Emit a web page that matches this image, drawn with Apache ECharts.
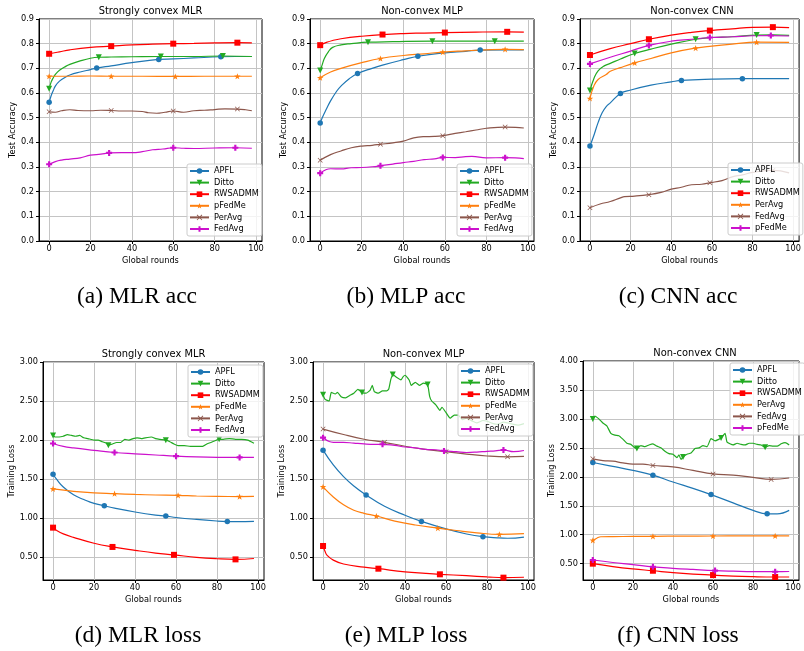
<!DOCTYPE html>
<html><head><meta charset="utf-8">
<script src="https://cdn.jsdelivr.net/npm/echarts@6/dist/echarts.min.js"></script>
<style>html,body{margin:0;padding:0;background:#fff}#c{width:804px;height:651px}</style>
</head><body><div id="c"></div>
<script>
// ---------- tick labels ----------
const xTicks = [0, 20, 40, 60, 80, 100];
const accTicks = [0.0, 0.1, 0.2, 0.3, 0.4, 0.5, 0.6, 0.7, 0.8, 0.9];
const lossTicks = [0.5, 1.0, 1.5, 2.0, 2.5, 3.0, 3.5, 4.0];

// ---------- series names ----------
const namesStd = ['APFL', 'Ditto', 'RWSADMM', 'pFedMe', 'PerAvg', 'FedAvg'];
const namesCnn = ['APFL', 'Ditto', 'RWSADMM', 'PerAvg', 'FedAvg', 'pFedMe'];

// ---------- (a) MLR acc ----------
const a_APFL = [[0,0.562],[1,0.59],[2,0.61],[3,0.628],[5,0.648],[8,0.665],[10,0.673],[15,0.685],[20,0.695],[23,0.701],[30,0.71],[40,0.723],[53,0.736],[60,0.738],[70,0.742],[83,0.747],[90,0.748],[98,0.748]];
const a_Ditto = [[0,0.617],[1,0.645],[2,0.662],[3,0.675],[5,0.692],[8,0.708],[10,0.716],[15,0.73],[20,0.741],[24,0.745],[30,0.746],[40,0.747],[54,0.748],[70,0.748],[84,0.75],[98,0.748]];
const a_RWSADMM = [[0,0.759],[5,0.767],[10,0.775],[20,0.785],[30,0.79],[40,0.795],[50,0.798],[60,0.80],[70,0.801],[80,0.803],[91,0.804],[98,0.803]];
const a_pFedMe = [[0,0.668],[10,0.668],[20,0.669],[30,0.668],[45,0.668],[61,0.667],[75,0.668],[91,0.668],[98,0.668]];
const a_PerAvg = [[0,0.524],[3,0.522],[6,0.528],[10,0.532],[14,0.529],[20,0.528],[25,0.530],[30,0.529],[35,0.527],[40,0.527],[45,0.525],[48,0.52],[52,0.518],[56,0.522],[60,0.527],[65,0.522],[70,0.528],[75,0.530],[80,0.533],[85,0.536],[91,0.535],[95,0.532],[98,0.528]];
const a_FedAvg = [[0,0.311],[3,0.322],[6,0.328],[10,0.332],[15,0.337],[20,0.348],[25,0.352],[29,0.357],[35,0.358],[40,0.358],[45,0.362],[50,0.37],[55,0.373],[60,0.378],[65,0.376],[70,0.375],[80,0.377],[90,0.378],[98,0.376]];
const a_marks = [[0,23,53,83],[0,24,54,84],[0,30,60,91],[0,30,61,91],[0,30,60,91],[0,29,60,90]];

// ---------- (b) MLP acc ----------
const b_APFL = [[0,0.478],[1,0.5],[3,0.535],[5,0.568],[8,0.608],[10,0.628],[14,0.658],[18,0.679],[25,0.700],[30,0.713],[40,0.735],[47,0.749],[60,0.763],[70,0.769],[77,0.774],[90,0.775],[98,0.775]];
const b_Ditto = [[0,0.691],[1,0.715],[2,0.74],[4,0.768],[6,0.785],[10,0.795],[15,0.800],[23,0.806],[35,0.808],[54,0.81],[70,0.81],[84,0.81],[98,0.81]];
const b_RWSADMM = [[0,0.794],[3,0.805],[6,0.813],[10,0.82],[20,0.83],[30,0.837],[40,0.841],[50,0.843],[60,0.845],[75,0.847],[90,0.848],[98,0.847]];
const b_pFedMe = [[0,0.662],[5,0.685],[10,0.70],[20,0.723],[29,0.74],[40,0.752],[50,0.759],[59,0.766],[70,0.771],[80,0.775],[89,0.777],[98,0.776]];
const b_PerAvg = [[0,0.327],[5,0.35],[10,0.365],[15,0.378],[20,0.385],[25,0.388],[29,0.392],[35,0.398],[40,0.405],[45,0.418],[50,0.423],[55,0.424],[59,0.427],[65,0.436],[70,0.443],[75,0.45],[80,0.457],[89,0.462],[94,0.461],[98,0.458]];
const b_FedAvg = [[0,0.275],[3,0.29],[5,0.293],[10,0.292],[15,0.297],[20,0.298],[25,0.301],[29,0.305],[35,0.312],[40,0.318],[45,0.323],[50,0.33],[55,0.333],[59,0.339],[65,0.338],[70,0.342],[73,0.343],[80,0.337],[89,0.338],[94,0.337],[98,0.334]];
const b_marks = [[0,18,47,77],[0,23,54,84],[0,30,60,90],[0,29,59,89],[0,29,59,89],[0,29,59,89]];

// ---------- (c) CNN acc ----------
const c_APFL = [[0,0.385],[2,0.43],[4,0.48],[6,0.52],[8,0.545],[10,0.56],[15,0.598],[20,0.612],[30,0.632],[40,0.645],[45,0.651],[60,0.656],[75,0.658],[98,0.658]];
const c_Ditto = [[0,0.61],[2,0.66],[4,0.69],[7,0.71],[10,0.72],[15,0.738],[22,0.76],[30,0.778],[40,0.798],[52,0.818],[60,0.825],[70,0.828],[82,0.835],[90,0.836],[98,0.834]];
const c_RWSADMM = [[0,0.754],[10,0.78],[20,0.80],[29,0.818],[40,0.835],[50,0.846],[59,0.853],[70,0.860],[80,0.866],[90,0.867],[98,0.865]];
const c_PerAvg = [[0,0.578],[2,0.63],[4,0.655],[8,0.675],[10,0.688],[15,0.703],[22,0.722],[30,0.74],[40,0.763],[52,0.782],[60,0.79],[70,0.798],[82,0.806],[98,0.805]];
const c_FedAvg = [[0,0.135],[5,0.15],[10,0.16],[15,0.175],[17,0.18],[22,0.182],[29,0.188],[35,0.197],[40,0.21],[45,0.218],[50,0.228],[55,0.23],[59,0.236],[65,0.245],[70,0.26],[75,0.268],[80,0.278],[90,0.286],[98,0.276]];
const c_pFedMe = [[0,0.718],[10,0.745],[20,0.77],[29,0.793],[40,0.81],[50,0.818],[59,0.825],[70,0.828],[80,0.832],[89,0.833],[98,0.831]];
const c_marks = [[0,15,45,75],[0,22,52,82],[0,29,59,90],[0,22,52,82],[0,29,59,90],[0,29,59,89]];

// ---------- (d) MLR loss ----------
const d_APFL = [[0,1.564],[2,1.49],[5,1.40],[10,1.30],[15,1.24],[20,1.19],[25,1.16],[30,1.13],[40,1.08],[50,1.04],[55,1.028],[60,1.01],[70,0.985],[80,0.965],[85,0.958],[90,0.956],[98,0.96]];
const d_Ditto = [[0,2.06],[1,2.04],[3,2.04],[5,2.05],[7,2.07],[9,2.06],[11,2.05],[13,2.06],[15,2.03],[17,2.02],[20,2.00],[22,2.00],[24,1.98],[26,1.96],[27,1.935],[29,1.95],[31,1.97],[33,1.97],[35,2.01],[37,2.00],[39,2.02],[41,2.03],[43,2.02],[45,2.03],[48,2.04],[50,2.02],[52,2.01],[55,2.00],[57,1.98],[59,1.95],[61,1.93],[64,1.93],[67,1.92],[70,1.92],[73,1.92],[75,1.95],[77,1.97],[81,2.01],[83,2.01],[86,2.02],[89,2.01],[92,2.01],[95,2.00],[98,1.96]];
const d_RWSADMM = [[0,0.88],[2,0.84],[5,0.80],[10,0.755],[20,0.68],[29,0.633],[40,0.59],[50,0.555],[59,0.532],[70,0.50],[80,0.482],[89,0.474],[98,0.485]];
const d_pFedMe = [[0,1.376],[10,1.345],[20,1.325],[30,1.315],[40,1.305],[50,1.298],[61,1.293],[70,1.285],[80,1.28],[91,1.278],[98,1.28]];
const d_PerAvg = [];
const d_FedAvg = [[0,1.957],[5,1.92],[10,1.90],[20,1.87],[30,1.842],[40,1.825],[50,1.81],[60,1.795],[70,1.785],[80,1.78],[91,1.779],[98,1.78]];
const d_marks = [[0,25,55,85],[0,27,55,81],[0,29,59,89],[0,30,61,91],[],[0,30,60,91]];

// ---------- (e) MLP loss ----------
const e_APFL = [[0,1.87],[5,1.68],[10,1.53],[15,1.41],[21,1.295],[30,1.15],[40,1.035],[48,0.956],[60,0.86],[70,0.795],[78,0.76],[85,0.745],[90,0.74],[98,0.755]];
const e_Ditto = [[0,2.58],[1,2.52],[3,2.50],[4,2.61],[6,2.59],[7,2.61],[9,2.55],[11,2.54],[13,2.57],[15,2.60],[17,2.65],[19,2.61],[21,2.60],[23,2.64],[24,2.70],[25,2.62],[27,2.60],[29,2.63],[31,2.63],[32,2.65],[33,2.77],[34,2.84],[36,2.80],[38,2.77],[39,2.81],[40,2.83],[42,2.77],[43,2.70],[45,2.74],[47,2.70],[49,2.73],[51,2.71],[52,2.56],[53,2.50],[55,2.45],[57,2.38],[58,2.42],[60,2.35],[62,2.28],[64,2.32],[66,2.32],[68,2.26],[70,2.28],[73,2.24],[75,2.22],[78,2.25],[80,2.24],[83,2.21],[85,2.20],[88,2.23],[90,2.22],[93,2.20],[95,2.19],[98,2.21]];
const e_RWSADMM = [[0,0.641],[1,0.57],[2,0.52],[5,0.46],[10,0.41],[20,0.37],[27,0.35],[40,0.31],[50,0.29],[57,0.278],[70,0.26],[80,0.245],[88,0.235],[98,0.24]];
const e_pFedMe = [[0,1.40],[5,1.27],[10,1.17],[15,1.10],[20,1.06],[26,1.025],[35,0.96],[45,0.91],[56,0.87],[65,0.84],[75,0.81],[86,0.79],[98,0.80]];
const e_PerAvg = [[0,2.14],[10,2.07],[20,2.01],[30,1.97],[40,1.92],[50,1.88],[60,1.85],[70,1.82],[80,1.795],[90,1.784],[98,1.79]];
const e_FedAvg = [[0,2.03],[3,1.98],[5,1.97],[10,1.97],[15,1.96],[20,1.95],[25,1.945],[29,1.945],[35,1.93],[40,1.91],[45,1.90],[50,1.88],[55,1.875],[59,1.86],[65,1.85],[70,1.84],[75,1.845],[80,1.855],[84,1.86],[88,1.872],[93,1.85],[98,1.865]];
const e_marks = [[0,21,48,78],[0,19,34,51],[0,27,57,88],[0,26,56,86],[0,30,60,90],[0,29,59,88]];

// ---------- (f) CNN loss ----------
const f_APFL = [[0,2.247],[10,2.18],[20,2.11],[30,2.028],[40,1.91],[50,1.80],[59,1.693],[70,1.55],[80,1.42],[87,1.36],[92,1.36],[98,1.42]];
const f_Ditto = [[0,3.0],[1,3.05],[3,3.0],[5,2.93],[7,2.88],[9,2.75],[11,2.72],[13,2.71],[15,2.65],[17,2.58],[19,2.56],[21,2.50],[22,2.49],[24,2.54],[26,2.52],[28,2.55],[30,2.57],[32,2.53],[34,2.50],[36,2.44],[38,2.40],[40,2.39],[42,2.33],[43,2.38],[44,2.30],[45,2.34],[47,2.39],[49,2.41],[51,2.49],[53,2.50],[55,2.54],[57,2.52],[59,2.66],[61,2.62],[63,2.65],[64,2.67],[66,2.75],[67,2.60],[70,2.55],[72,2.58],[74,2.56],[76,2.55],[78,2.58],[80,2.58],[82,2.56],[84,2.55],[86,2.51],[88,2.54],[90,2.53],[92,2.53],[94,2.57],[96,2.59],[98,2.55]];
const f_RWSADMM = [[0,0.50],[10,0.45],[20,0.41],[30,0.378],[40,0.345],[50,0.32],[60,0.303],[70,0.285],[80,0.275],[91,0.27],[98,0.27]];
const f_PerAvg = [[0,0.903],[2,0.94],[4,0.965],[10,0.968],[20,0.97],[30,0.972],[45,0.976],[60,0.978],[75,0.98],[91,0.98],[98,0.98]];
const f_FedAvg = [[0,2.31],[5,2.28],[10,2.27],[15,2.24],[20,2.22],[25,2.22],[30,2.195],[40,2.17],[50,2.11],[60,2.05],[70,2.03],[80,1.99],[89,1.955],[98,1.98]];
const f_pFedMe = [[0,0.563],[10,0.52],[20,0.485],[30,0.445],[40,0.42],[50,0.40],[61,0.38],[70,0.37],[80,0.362],[91,0.361],[98,0.365]];
const f_marks = [[0,30,59,87],[0,22,45,64,86],[0,30,60,91],[0,30,60,91],[0,30,60,89],[0,30,61,91]];

// ---------- styles (by position in each plot) ----------
const STAR = 'path://M0,-10L2.35,-3.24L9.51,-3.09L3.8,1.24L5.88,8.09L0,4L-5.88,8.09L-3.8,1.24L-9.51,-3.09L-2.35,-3.24Z';
const XMARK = 'path://M-5,-4L-4,-5L0,-1L4,-5L5,-4L1,0L5,4L4,5L0,1L-4,5L-5,4L-1,0Z';
const PLUS = 'path://M-1.8,-5L1.8,-5L1.8,-1.8L5,-1.8L5,1.8L1.8,1.8L1.8,5L-1.8,5L-1.8,1.8L-5,1.8L-5,-1.8L-1.8,-1.8Z';
const styles = [
  {color:'#1f77b4', symbol:'circle', size:5.5, rotate:0},
  {color:'#22aa22', symbol:'triangle', size:6, rotate:180},
  {color:'#ff0000', symbol:'rect', size:6, rotate:0},
  {color:'#ff7f0e', symbol:STAR, size:6.5, rotate:0},
  {color:'#8c564b', symbol:XMARK, size:5, rotate:0},
  {color:'#cc11cc', symbol:PLUS, size:6, rotate:0}
];

const plots = [
  {key:'a', title:'Strongly convex MLR', yName:'Test Accuracy', names:namesStd, series:[a_APFL,a_Ditto,a_RWSADMM,a_pFedMe,a_PerAvg,a_FedAvg], marks:a_marks,
   grid:{left:39, top:19, width:223, height:222}, y:{min:0, max:0.9, acc:true}, legend:{left:187, top:164}, yGap:22, caption:'(a) MLR acc', cap:[137,297]},
  {key:'b', title:'Non-convex MLP', yName:'Test Accuracy', names:namesStd, series:[b_APFL,b_Ditto,b_RWSADMM,b_pFedMe,b_PerAvg,b_FedAvg], marks:b_marks,
   grid:{left:310, top:19, width:224, height:222}, y:{min:0, max:0.9, acc:true}, legend:{left:457, top:164}, yGap:22, caption:'(b) MLP acc', cap:[406,297]},
  {key:'c', title:'Non-convex CNN', yName:'Test Accuracy', names:namesCnn, series:[c_APFL,c_Ditto,c_RWSADMM,c_PerAvg,c_FedAvg,c_pFedMe], marks:c_marks,
   grid:{left:580, top:19, width:224, height:222}, y:{min:0, max:0.9, acc:true}, legend:{left:728, top:163}, yGap:22, caption:'(c) CNN acc', cap:[678,297]},
  {key:'d', title:'Strongly convex MLR', yName:'Training Loss', names:namesStd, series:[d_APFL,d_Ditto,d_RWSADMM,d_pFedMe,d_PerAvg,d_FedAvg], marks:d_marks,
   grid:{left:43, top:362, width:221, height:218}, y:{min:0.21, max:3.0, acc:false}, legend:{left:188, top:365}, yGap:27, caption:'(d) MLR loss', cap:[138,636]},
  {key:'e', title:'Non-convex MLP', yName:'Training Loss', names:namesStd, series:[e_APFL,e_Ditto,e_RWSADMM,e_pFedMe,e_PerAvg,e_FedAvg], marks:e_marks,
   grid:{left:313, top:362, width:221, height:218}, y:{min:0.205, max:3.0, acc:false}, legend:{left:458, top:364}, yGap:26, caption:'(e) MLP loss', cap:[406,636]},
  {key:'f', title:'Non-convex CNN', yName:'Training Loss', names:namesCnn, series:[f_APFL,f_Ditto,f_RWSADMM,f_PerAvg,f_FedAvg,f_pFedMe], marks:f_marks,
   grid:{left:583, top:361, width:224, height:219}, y:{min:0.218, max:4.0, acc:false}, legend:{left:730, top:363}, yGap:26, caption:'(f) CNN loss', cap:[678,636]}
];

const FONT = 'DejaVu Sans';
const option = {
  animation:false, backgroundColor:'#fff',
  title:[], grid:[], xAxis:[], yAxis:[], legend:[], series:[], graphic:[]
};

plots.forEach((p, i) => {
  option.grid.push(Object.assign({show:true, borderColor:'#000', borderWidth:1, backgroundColor:'transparent', containLabel:false}, p.grid));
  option.title.push({
    text:p.title, left:p.grid.left + p.grid.width/2, top:p.grid.top - 12.5, textAlign:'center', padding:0,
    textStyle:{fontFamily:FONT, fontSize:9.9, fontWeight:'normal', color:'#000'}
  });
  option.xAxis.push({
    type:'value', gridIndex:i, min:-4.9, max:102.9, splitNumber:5,
    name:'Global rounds', nameLocation:'middle', nameGap:15.5,
    nameTextStyle:{fontFamily:FONT, fontSize:8.2, color:'#000'},
    axisLine:{show:true, onZero:false, lineStyle:{color:'#000', width:1}},
    axisTick:{show:true, length:3, lineStyle:{color:'#000'}, customValues:xTicks},
    axisLabel:{fontFamily:FONT, fontSize:8.2, color:'#000', margin:4, customValues:xTicks,
      formatter:v => String(Math.round(v))},
    splitLine:{show:true, lineStyle:{color:'#c4c4c4', width:1}}
  });
  const yT = p.y.acc ? accTicks : lossTicks.filter(t => t <= p.y.max + 1e-9);
  const yAx = {
    type:'value', gridIndex:i, min:p.y.min, max:p.y.max,
    name:p.yName, nameLocation:'middle', nameRotate:90, nameGap:p.yGap,
    nameTextStyle:{fontFamily:FONT, fontSize:8.2, color:'#000'},
    axisLine:{show:true, onZero:false, lineStyle:{color:'#000', width:1}},
    axisTick:{show:true, length:3, lineStyle:{color:'#000'}, customValues:yT},
    axisLabel:{fontFamily:FONT, fontSize:8.2, color:'#000', margin:5, customValues:yT,
      formatter:v => p.y.acc ? v.toFixed(1) : v.toFixed(2)},
    splitLine:{show:true, lineStyle:{color:'#c4c4c4', width:1}}
  };
  if (p.y.acc) { yAx.interval = 0.1; } else { yAx.splitNumber = 6; }
  option.yAxis.push(yAx);

  const legendNames = [];
  p.series.forEach((pts, j) => {
    const st = styles[j];
    const nm = p.key + '|' + p.names[j];
    legendNames.push(nm);
    const mk = p.marks[j];
    const dense = pts.length > 24;
    option.series.push({
      type:'line', name:nm, xAxisIndex:i, yAxisIndex:i,
      data: pts.map(q => mk.indexOf(q[0]) >= 0 ? {value:q} : {value:q, symbol:'none'}),
      symbol:st.symbol, symbolSize:st.size, symbolRotate:st.rotate, symbolKeepAspect:true,
      showSymbol:true, showAllSymbol:true,
      smooth: dense ? 0.15 : 0.45,
      lineStyle:{color:st.color, width:1.2},
      itemStyle:{color:st.color, borderWidth:0},
      emphasis:{disabled:true}, silent:true, clip:true
    });
  });
  option.legend.push({
    orient:'vertical', left:p.legend.left, top:p.legend.top, data:legendNames,
    formatter: n => n.split('|')[1],
    itemWidth:19, itemHeight:7, itemGap:3.6, padding:[3,3,3,2],
    backgroundColor:'rgba(255,255,255,0.8)', borderColor:'#cccccc', borderWidth:1, borderRadius:2,
    textStyle:{fontFamily:FONT, fontSize:8.2, color:'#000'}, selectedMode:false, z:10
  });
  option.graphic.push({
    type:'text', x:p.cap[0], y:p.cap[1],
    style:{text:p.caption, font:'23.5px "Liberation Serif"', fill:'#000', align:'center', verticalAlign:'middle', textAlign:'center', textVerticalAlign:'middle'}
  });
});

const chart = echarts.init(document.getElementById('c'), null, {renderer:'canvas'});
chart.setOption(option);
</script></body></html>
